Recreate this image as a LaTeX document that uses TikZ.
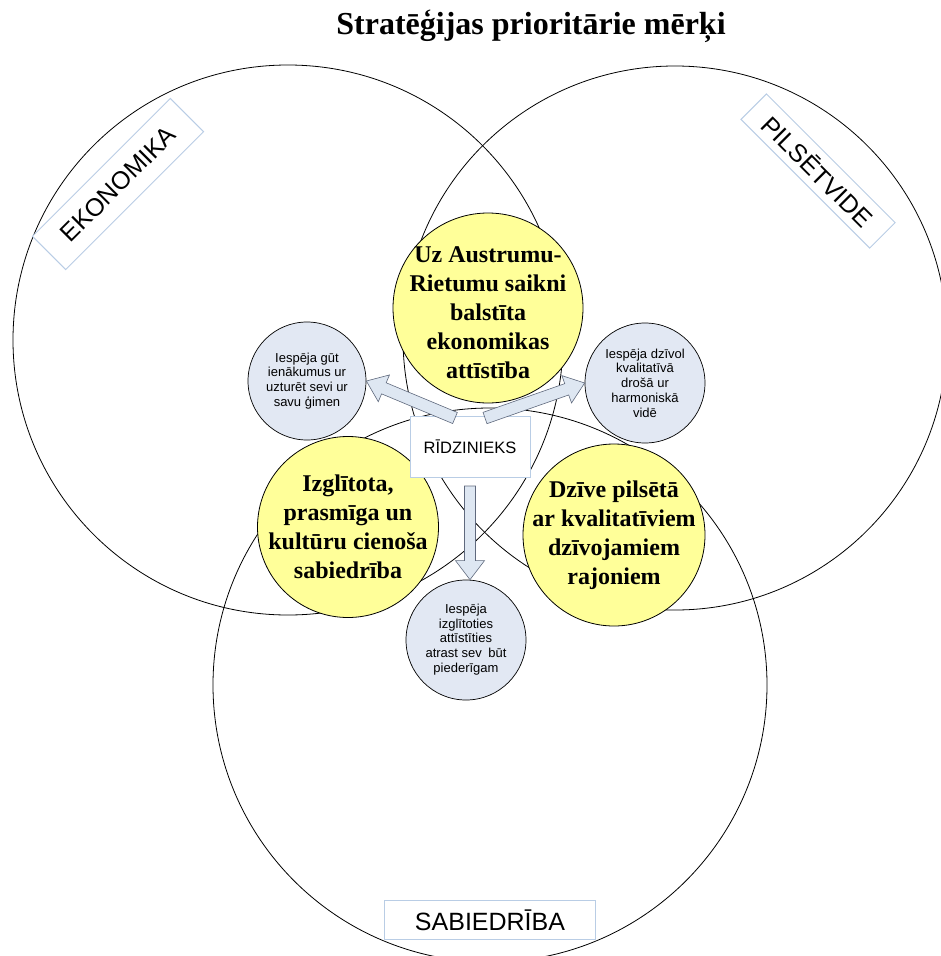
\documentclass[tikz,border=0pt]{standalone}
\usepackage{fontspec}
\setmainfont{Liberation Serif}
\setsansfont{Liberation Sans}
\usetikzlibrary{calc}

\definecolor{goalyellow}{RGB}{255,255,153}
\definecolor{aimblue}{RGB}{226,232,243}
\definecolor{arrowfill}{RGB}{222,231,242}
\definecolor{arrowline}{RGB}{95,105,125}
\definecolor{tagline}{RGB}{185,205,229}

% block arrow from #2 to #3, half shaft width #1
\newcommand\bigarrow[3][6pt]{%
  \coordinate (ah) at ($(#3)!19pt!(#2)$);
  \filldraw[arrowbox] ($(#2)!#1!90:(#3)$) -- ($(ah)!#1!90:(#3)$)
    -- ($(ah)!14.5pt!90:(#3)$) -- (#3) -- ($(ah)!14.5pt!-90:(#3)$)
    -- ($(ah)!#1!-90:(#3)$) -- ($(#2)!#1!-90:(#3)$) -- cycle;}

\begin{document}
\begin{tikzpicture}[x=1pt,y=-1pt,
    ring/.style={circle,draw,line width=0.8pt,inner sep=0pt},
    goal/.style={circle,draw,fill=goalyellow,line width=0.8pt,inner sep=-30pt,
      minimum size=180,align=center,font=\fontsize{24}{29}\selectfont\bfseries},
    aim/.style={circle,draw,fill=aimblue,line width=0.7pt,inner sep=-10pt,
      minimum size=120,align=center,font=\sffamily\fontsize{13}{14.8}\selectfont},
    tag/.style={draw=tagline,fill=white,line width=1pt,inner sep=0pt,
      font=\sffamily\fontsize{25}{30}\selectfont},
    arrowbox/.style={fill=arrowfill,draw=arrowline,line width=0.6pt}]
  \useasboundingbox (0,0) rectangle (941,956);

  \node[anchor=base,font=\fontsize{32}{38}\selectfont\bfseries] (title) at (531,34)
    {Stratēģijas prioritārie mērķi};

  % the three fields
  \node[ring,minimum size=550] (eko) at (288,340) {};
  \node[ring,minimum size=544] (vide) at (675,338) {};
  \node[ring,minimum size=554] (sab) at (490,685) {};

  \node[tag,rotate=45,minimum width=195,minimum height=47] (tagE) at (118,184) {EKONOMIKA};
  \node[tag,rotate=-45,minimum width=182,minimum height=36] (tagP) at (818,171) {PILSĒTVIDE};
  \node[tag,minimum width=211,minimum height=39] (tagS) at (490,920) {SABIEDRĪBA};

  % goals
  \node[goal,inner sep=0pt,minimum size=190] (gEko) at (488,308)
    {\raisebox{-13pt}[0pt][0pt]{\begin{tabular}{@{}c@{}}Uz Austrumu-\\Rietumu saikni\\
      balstīta\\ekonomikas\\attīstība\end{tabular}}};
  \node[goal,minimum size=181] (gSab) at (348,527)
    {Izglītota,\\prasmīga un\\kultūru cienoša\\sabiedrība};
  \node[goal,minimum size=182] (gVide) at (614,535)
    {Dzīve pilsētā\\ar kvalitatīviem\\dzīvojamiem\\rajoniem};

  % citizen and his aims
  \node[draw=tagline,fill=white,line width=1pt,minimum width=120,minimum height=61,
    font=\sffamily\fontsize{16.5}{20}\selectfont] (ridz) at (470,447) {RĪDZINIEKS};
  \node[aim,minimum size=118] (aimL) at (307,381)
    {Iespēja gūt\\ienākumus ur\\uzturēt sevi ur\\savu ģimen};
  \node[aim] (aimR) at (645,383)
    {Iespēja dzīvol\\kvalitatīvā\\drošā ur\\harmoniskā\\vidē};
  \node[aim] (aimB) at (466,640)
    {\begin{tabular}{@{}c@{}}Iespēja\\izglītoties\\attīstīties\\
      atrast sev\enspace būt\\piederīgam\end{tabular}};

  \coordinate (tailL) at ($(ridz.north)+(-15,2)$);
  \coordinate (tailR) at ($(ridz.north)+(15,2)$);
  \coordinate (tailB) at ($(ridz.south)+(0,8)$);
  \coordinate (tipB) at (ridz.south |- aimB.north);
  \bigarrow{tailL}{aimL.east}
  \bigarrow{tailR}{aimR.west}
  \bigarrow[5.5pt]{tailB}{tipB}
\end{tikzpicture}
\end{document}
